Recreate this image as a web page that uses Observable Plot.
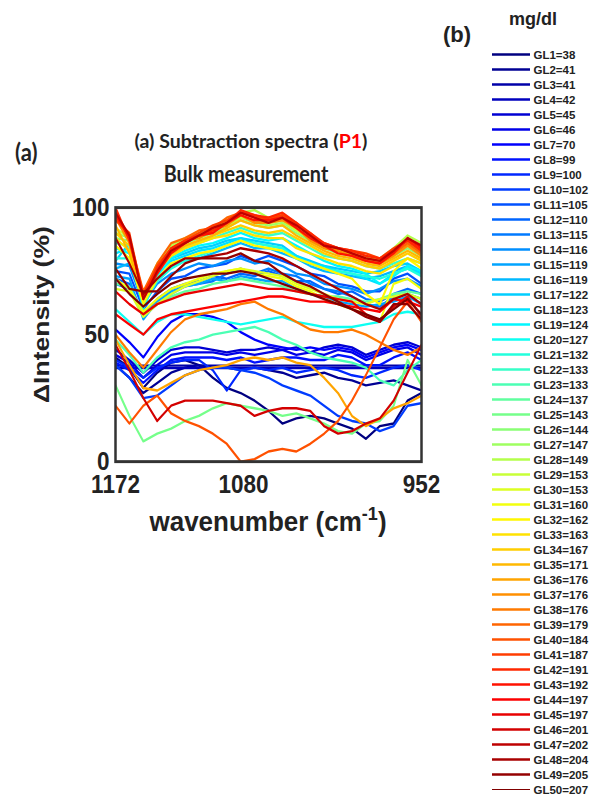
<!DOCTYPE html>
<html>
<head>
<meta charset="utf-8">
<script src="https://cdn.jsdelivr.net/npm/d3@7"></script>
<script src="https://cdn.jsdelivr.net/npm/@observablehq/plot@0.6"></script>
<style>
  body { margin: 0; background: #fff; }
  #page { position: relative; width: 596px; height: 807px; overflow: hidden; color: #222;
          font-family: "Liberation Sans", Arial, sans-serif; }
  .abs { position: absolute; white-space: nowrap; line-height: 1; }
  .calibri { font-family: Lato, "Open Sans", sans-serif; font-weight: bold; }
  #title1 { left: 251px; top: 131px; font-size: 19.5px; transform: translateX(-50%); }
  #title2 { left: 246px; top: 162px; font-size: 19.8px; transform: translateX(-50%) scaleY(1.19); transform-origin: 50% 0; }
  #panelA { left: 15px; top: 140px; font-size: 22px; transform-origin: 0 0; transform: scaleY(1.1); }
  #xlabel { left: 268px; top: 508px; font-size: 26px; font-weight: bold; transform: translateX(-50%) scaleY(1.05); transform-origin: 50% 0; }
  #xlabel sup { font-size: 18px; line-height: 0; vertical-align: 11px; }
  #panelB { left: 443px; top: 24px; font-size: 22px; font-weight: bold; }
  #unit { left: 533px; top: 10px; font-size: 18px; font-weight: bold; transform: translateX(-50%); }
  #main { position: absolute; left: 0; top: 190px; transform-origin: 0 0; transform: scaleY(1.18); }
  #legend { position: absolute; left: 420px; top: 0; }
</style>
</head>
<body>
<div id="page">
  <div id="panelA" class="abs calibri">(a)</div>
  <div id="title1" class="abs calibri">(a) Subtraction spectra (<span style="color:#ff0000">P1</span>)</div>
  <div id="title2" class="abs calibri">Bulk measurement</div>
  <div id="main"></div>
  <div id="xlabel" class="abs">wavenumber (cm<sup>-1</sup>)</div>
  <div id="panelB" class="abs">(b)</div>
  <div id="unit" class="abs">mg/dl</div>
  <div id="legend"></div>
</div>
<script>
// Sampling grid of the subtraction spectra (cm^-1), high to low
const wavenumbers = [1172, 1162, 1152, 1142, 1132, 1122, 1112, 1102, 1092, 1082, 1072, 1062,
                     1052, 1042, 1032, 1022, 1012, 1002, 992, 982, 972, 962, 952];

// Glucose level of each sample (mg/dl)
const glucose = [38, 41, 41, 42, 45, 46, 70, 99, 100, 102, 105, 110, 115, 116, 119, 119, 122, 123,
                 124, 127, 132, 133, 133, 137, 143, 144, 147, 149, 153, 153, 160, 162, 163, 167,
                 171, 176, 176, 176, 179, 184, 187, 191, 192, 197, 197, 201, 202, 204, 205, 207];

// Normalised ΔIntensity (%) per sample, one value per wavenumber
const GL1  = [41, 37, 29, 35, 39, 40, 38, 33, 29, 27, 24, 20, 15, 17, 18, 17, 15, 13, 9, 14, 15, 24, 27];
const GL2  = [38, 33, 27, 31, 35, 37, 38, 37, 37, 36, 37, 36, 35, 33, 34, 35, 33, 32, 30, 31, 32, 30, 28];
const GL3  = [37.8, 37.8, 37.8, 37.8, 37.8, 37.8, 37.8, 37.8, 37.8, 37.8, 37.8, 37.8, 37.8, 37.8, 37.8, 37.8, 37.8, 37.8, 37.8, 37.8, 37.8, 37.8, 37.8];
const GL4  = [36.8, 36.8, 36.8, 36.8, 36.8, 36.8, 36.8, 36.8, 36.8, 36.8, 36.8, 36.8, 36.8, 36.8, 36.8, 36.8, 36.8, 36.8, 36.8, 36.8, 36.8, 36.8, 36.8];
const GL5  = [44, 40, 35, 40, 44, 45, 45, 44, 43, 44, 44, 45, 44, 45, 43, 45, 46, 45, 42, 44, 46, 47, 45];
const GL6  = [42, 39, 33, 38, 42, 43, 43, 43, 42, 43, 42, 43, 44, 42, 43, 42, 44, 43, 40, 42, 44, 45, 42];
const GL7  = [52, 47, 41, 49, 55, 58, 58, 57, 55, 51, 48, 46, 45, 44, 45, 44, 45, 44, 41, 43, 45, 46, 44];
const GL8  = [39, 36, 31, 36, 40, 41, 41, 41, 40, 41, 39, 40, 41, 41, 40, 40, 42, 41, 38, 38, 41, 43, 40];
const GL9  = [40, 37, 33, 37, 39, 40, 40, 36, 28, 36, 37, 36, 37, 35, 36, 37, 36, 34, 33, 35, 37, 38, 36];
const GL10 = [38, 33, 25, 26, 30, 34, 36, 37, 37, 36, 35, 33, 30, 28, 26, 22, 18, 16, 15, 12, 14, 22, 23];
const GL11 = [75, 74, 60, 67, 72, 73, 76, 77, 78, 81, 79, 81, 79, 77, 74, 73, 70, 69, 67, 67, 72, 74, 70];
const GL12 = [72, 70, 58, 64, 68, 70, 71, 73, 72, 74, 73, 75, 73, 71, 71, 68, 66, 67, 64, 63, 66, 68, 66];
const GL13 = [70, 68, 57, 62, 66, 69, 70, 71, 74, 76, 74, 76, 74, 73, 70, 68, 67, 65, 62, 61, 65, 66, 64];
const GL14 = [78, 77, 62, 70, 74, 76, 78, 77, 79, 80, 78, 79, 77, 74, 73, 70, 69, 68, 66, 68, 71, 72, 69];
const GL15 = [73, 72, 56, 63, 67, 69, 70, 72, 71, 73, 72, 71, 71, 68, 66, 65, 63, 62, 61, 62, 63, 65, 62];
const GL16 = [76, 78, 64, 72, 77, 79, 80, 82, 84, 86, 84, 84, 82, 80, 77, 75, 74, 73, 72, 73, 75, 77, 74];
const GL17 = [79, 86, 63, 76, 80, 82, 84, 85, 87, 88, 87, 86, 85, 81, 79, 77, 76, 75, 74, 75, 77, 78, 75];
const GL18 = [82, 84, 61, 74, 79, 81, 83, 84, 86, 88, 86, 85, 84, 81, 78, 77, 75, 74, 72, 70, 74, 76, 74];
const GL19 = [84, 82, 60, 73, 80, 83, 85, 86, 88, 90, 88, 87, 88, 85, 82, 79, 77, 76, 74, 70, 73, 77, 75];
const GL20 = [60, 55, 50, 55, 58, 58, 57, 56, 55, 54, 55, 56, 57, 55, 54, 53, 53, 53, 54, 55, 58, 59, 58];
const GL21 = [80, 80, 62, 71, 76, 79, 81, 83, 85, 87, 86, 85, 84, 80, 78, 76, 75, 74, 73, 72, 74, 76, 73];
const GL22 = [86, 85, 63, 75, 81, 84, 86, 88, 90, 92, 90, 89, 90, 87, 84, 81, 80, 79, 77, 76, 78, 80, 78];
const GL23 = [48, 42, 35, 41, 45, 47, 48, 50, 51, 52, 53, 51, 48, 46, 43, 41, 40, 39, 37, 32, 30, 36, 40];
const GL24 = [70, 69, 58, 62, 65, 67, 68, 70, 71, 72, 71, 70, 69, 67, 66, 65, 65, 64, 63, 64, 66, 67, 66];
const GL25 = [30, 18, 8, 11, 13, 16, 18, 21, 23, 22, 21, 20, 18, 19, 17, 15, 12, 11, 15, 16, 22, 40, 30];
const GL26 = [88, 87, 64, 76, 83, 86, 88, 90, 92, 95, 93, 92, 93, 90, 87, 84, 82, 81, 79, 78, 81, 84, 81];
const GL27 = [90, 88, 65, 77, 84, 87, 89, 91, 93, 96, 94, 93, 94, 91, 88, 85, 83, 82, 80, 79, 82, 86, 82];
const GL28 = [96, 88, 66, 78, 85, 88, 90, 92, 95, 98, 99, 96, 96, 93, 89, 85, 83, 82, 80, 80, 84, 89, 86];
const GL29 = [92, 88, 63, 77, 84, 87, 89, 91, 93, 96, 95, 94, 95, 91, 88, 85, 83, 82, 80, 79, 82, 85, 83];
const GL30 = [68, 67, 57, 62, 66, 69, 71, 73, 75, 76, 75, 74, 73, 70, 68, 66, 64, 63, 62, 64, 65, 66, 64];
const GL31 = [72, 68, 59, 64, 68, 70, 72, 74, 75, 76, 74, 73, 72, 69, 67, 64, 62, 60, 58, 55, 70, 72, 68];
const GL32 = [85, 80, 62, 72, 78, 80, 82, 83, 85, 87, 85, 84, 83, 80, 78, 76, 74, 72, 66, 62, 75, 80, 76];
const GL33 = [88, 83, 64, 75, 81, 84, 86, 88, 89, 91, 89, 88, 88, 84, 82, 80, 78, 77, 75, 74, 77, 80, 78];
const GL34 = [90, 85, 65, 76, 82, 85, 87, 89, 91, 93, 91, 90, 91, 88, 85, 82, 80, 79, 77, 76, 79, 82, 79];
const GL35 = [93, 82, 64, 75, 82, 85, 87, 89, 92, 95, 93, 92, 93, 89, 86, 83, 81, 80, 78, 77, 80, 83, 80];
const GL36 = [48, 38, 29, 28, 31, 34, 36, 37, 38, 40, 41, 40, 41, 39, 38, 33, 27, 18, 14, 17, 21, 23, 26];
const GL37 = [96, 86, 66, 77, 83, 87, 88, 91, 93, 97, 94, 94, 95, 92, 87, 84, 83, 81, 79, 78, 81, 85, 81];
const GL38 = [50, 43, 37, 44, 51, 56, 58, 59, 60, 62, 63, 60, 58, 55, 52, 51, 51, 52, 50, 47, 44, 42, 45];
const GL39 = [98, 88, 67, 78, 86, 88, 91, 92, 96, 98, 96, 96, 97, 93, 90, 85, 84, 82, 80, 79, 82, 86, 82];
const GL40 = [22, 15, 22, 26, 19, 16, 14, 11, 7, 0, 1, 4, 5, 4, 7, 11, 16, 24, 34, 45, 56, 63, 55];
const GL41 = [95, 90, 65, 77, 84, 87, 90, 93, 95, 98, 97, 95, 97, 94, 89, 86, 84, 83, 82, 80, 84, 87, 83];
const GL42 = [100, 87, 66, 76, 84, 87, 89, 91, 94, 99, 97, 96, 98, 94, 90, 86, 84, 83, 81, 80, 83, 87, 83];
const GL43 = [97, 88, 64, 74, 82, 86, 89, 90, 94, 97, 95, 95, 96, 92, 88, 85, 82, 81, 79, 78, 82, 88, 84];
const GL44 = [58, 54, 50, 56, 58, 59, 60, 61, 62, 63, 64, 65, 65, 64, 63, 63, 62, 61, 60, 59, 64, 63, 61];
const GL45 = [67, 62, 58, 62, 64, 66, 67, 68, 69, 70, 69, 68, 68, 67, 66, 65, 64, 63, 58, 55, 61, 65, 57];
const GL46 = [46, 36, 25, 16, 22, 24, 24, 24, 23, 22, 18, 20, 21, 21, 20, 14, 11, 12, 15, 17, 24, 35, 46];
const GL47 = [98, 89, 64, 75, 83, 86, 89, 92, 94, 98, 96, 94, 96, 93, 89, 85, 84, 82, 80, 79, 83, 88, 85];
const GL48 = [88, 78, 66, 72, 77, 80, 80, 81, 82, 84, 83, 82, 80, 77, 74, 71, 68, 65, 62, 60, 64, 66, 62];
const GL49 = [76, 68, 67, 67, 73, 78, 80, 80, 80, 82, 79, 78, 74, 71, 69, 66, 63, 60, 57, 55, 62, 62, 56];
const GL50 = [72, 66, 61, 66, 70, 72, 73, 74, 74, 75, 74, 72, 70, 68, 66, 64, 62, 60, 58, 56, 60, 64, 58];

const spectra = [GL1, GL2, GL3, GL4, GL5, GL6, GL7, GL8, GL9, GL10, GL11, GL12, GL13, GL14, GL15,
                 GL16, GL17, GL18, GL19, GL20, GL21, GL22, GL23, GL24, GL25, GL26, GL27, GL28, GL29,
                 GL30, GL31, GL32, GL33, GL34, GL35, GL36, GL37, GL38, GL39, GL40, GL41, GL42, GL43,
                 GL44, GL45, GL46, GL47, GL48, GL49, GL50];

const xTicks = [1172, 1080, 952];
const yTicks = [0, 50, 100];

// "jet" colour map, dark blue -> cyan -> yellow -> dark red
function jet(t) {
  const c = v => Math.max(0, Math.min(1, v));
  const r = c(1.5 - Math.abs(4 * t - 3));
  const g = c(1.5 - Math.abs(4 * t - 2));
  const b = c(1.5 - Math.abs(4 * t - 1));
  return d3.rgb(r * 255, g * 255, b * 255).formatHex();
}

const names = spectra.map((_, i) => `GL${i + 1}`);
const colors = names.map((_, i) => jet(i / (names.length - 1)));
const colorScale = {type: "ordinal", domain: names, range: colors};

const rows = spectra.flatMap((s, i) => s.map((v, k) => ({name: names[i], wn: wavenumbers[k], v})));
const legendRows = names.map((name, i) => ({name, label: `${name}=${glucose[i]}`}));

const tickFont = {fontSize: 22.5, fontWeight: "bold", fill: "#222", tickFormat: d => `${d}`};

const main = Plot.plot({
  width: 440,
  height: 314,
  marginLeft: 115,
  marginRight: 19,
  marginTop: 14.4,
  marginBottom: 84.3,
  style: {fontFamily: "'Liberation Sans', Arial, sans-serif", color: "#222", background: "transparent", overflow: "visible"},
  x: {domain: [1172, 952]},
  y: {domain: [0, 100]},
  color: colorScale,
  marks: [
    Plot.line(rows, {x: "wn", y: "v", z: "name", stroke: "name", strokeWidth: 2, clip: true}),
    Plot.frame({stroke: "#333", strokeWidth: 2.5}),
    Plot.axisX(xTicks, {tickSize: 0, tickPadding: 11, label: null, ...tickFont}),
    Plot.axisY(yTicks, {tickSize: 0, tickPadding: 6, label: null, ...tickFont}),
    Plot.text(["ΔIntensity (%)"], {text: d => d, frameAnchor: "left", textAnchor: "middle", rotate: -90,
      dx: -74, dy: -17, fontSize: 22.5, fontWeight: "bold", fill: "#222"})
  ]
});
document.getElementById("main").append(main);

const legend = Plot.plot({
  width: 176,
  height: 807,
  marginLeft: 72,
  marginRight: 66,
  marginTop: 45.7,
  marginBottom: 8.7,
  style: {fontFamily: "'Liberation Sans', Arial, sans-serif", background: "transparent"},
  y: {type: "point", domain: names, padding: 0, axis: null},
  color: colorScale,
  marks: [
    Plot.ruleY(legendRows, {y: "name", stroke: "name", strokeWidth: d => d.name === "GL50" ? 1.2 : 2.4}),
    Plot.text(legendRows, {y: "name", text: "label", frameAnchor: "right", textAnchor: "start", dx: 3, dy: 1,
      fontSize: 11.5, fontWeight: "bold", fill: "#222"})
  ]
});
document.getElementById("legend").append(legend);
</script>
</body>
</html>
